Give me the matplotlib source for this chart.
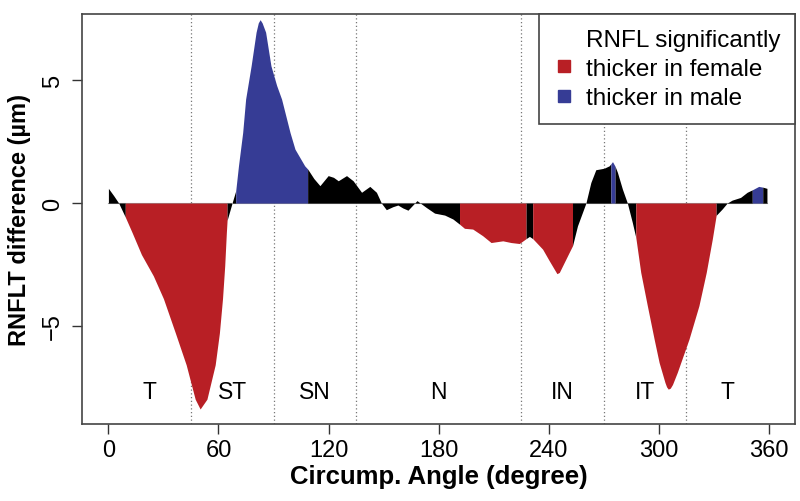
import matplotlib
matplotlib.use('Agg')
import matplotlib.pyplot as plt
from matplotlib.lines import Line2D
import numpy as np

plt.rcParams['font.family'] = ['Liberation Sans', 'DejaVu Sans']

# RNFLT difference (female - male)
angle = [0, 2.9, 5.6, 9.2, 12.9, 18, 24.5, 30, 36.5, 42.4, 47.3, 50, 53.7, 58.2,
         60.5, 62.2, 63.4, 64.3, 64.7, 67.4, 69.4, 70.9, 73.2, 74.8, 77.8, 80.5,
         81.7, 82.7, 83.8, 85.7, 88.6, 91.7, 94.4, 99.0, 101.7, 107.0, 108.6, 112,
         115.3, 119.8, 122.7, 125.3, 129.8, 133.4, 138, 142.5, 146.1, 148.8, 151.5,
         155, 157.8, 160.5, 163.3, 168.2, 173.3, 177.8, 183.3, 187.8, 191.4, 194.1,
         198.6, 204, 208.6, 215, 219.5, 224, 227.7, 229.5, 231.3, 236.7, 240.3,
         244.5, 245.8, 248.5, 251.2, 253, 255.7, 260.3, 263, 265.7, 270.2, 273,
         273.9, 274.8, 276.2, 277.5, 280.2, 282.9, 285.6, 287.5, 290.2, 293.8,
         297.5, 300.2, 303.4, 304.3, 305.2, 306.3, 307.5, 310.1, 316.5, 321.9,
         325.9, 329.2, 331.3, 334.6, 337.3, 340, 344.6, 348.2, 351, 354.5, 356.7, 359]
diff = [0.60, 0.30, 0.0, -0.57, -1.2, -2.1, -2.97, -3.9, -5.3, -6.6, -8.0, -8.4,
        -8.0, -6.6, -5.3, -3.9, -2.56, -1.2, -0.7, 0.0, 0.5, 1.52, 2.88, 4.24,
        5.6, 6.97, 7.35, 7.48, 7.35, 6.97, 5.6, 4.8, 4.24, 2.88, 2.2, 1.52, 1.39,
        1.0, 0.71, 1.12, 1.05, 0.91, 1.12, 0.91, 0.44, 0.68, 0.44, 0.0, -0.27,
        -0.15, -0.08, -0.2, -0.29, 0.1, -0.18, -0.41, -0.49, -0.65, -0.86, -1.03,
        -1.06, -1.33, -1.61, -1.54, -1.61, -1.65, -1.45, -1.36, -1.45, -1.88,
        -2.35, -2.88, -2.83, -2.42, -2.01, -1.74, -0.93, 0.0, 0.84, 1.36, 1.42,
        1.52, 1.6, 1.69, 1.5, 1.25, 0.57, 0.0, -0.79, -1.4, -2.83, -4.19, -5.55,
        -6.5, -7.32, -7.5, -7.59, -7.55, -7.4, -6.91, -5.55, -4.19, -2.83, -1.47,
        -0.5, -0.24, 0.0, 0.12, 0.23, 0.44, 0.54, 0.68, 0.65, 0.6]

# significance segments: 0 = n.s., 1 = thicker in female, 2 = thicker in male
seg_start = [0, 9.2, 64.7, 69.4, 108.6, 191.4, 227.7, 231.3, 253, 273.9, 276.2, 287.5, 331.3, 351, 356.7]
seg_end = [9.2, 64.7, 69.4, 108.6, 191.4, 227.7, 231.3, 253, 273.9, 276.2, 287.5, 331.3, 351, 356.7, 359]
seg_group = [0, 1, 0, 2, 0, 1, 0, 1, 0, 2, 0, 1, 0, 2, 0]

sectors = ['T', 'ST', 'SN', 'N', 'IN', 'IT', 'T']
sector_mid = [22.5, 67.5, 112.5, 180, 247.5, 292.5, 337.5]
sector_edges = [45, 90, 135, 225, 270, 315]

colors = {0: 'black', 1: '#B81F25', 2: '#363C95'}

angle = np.array(angle)
diff = np.array(diff)

fig = plt.figure(figsize=(8, 5.02), dpi=100)
ax = fig.add_axes([0.1025, 0.153, 0.8915, 0.817])

for s, e, g in zip(seg_start, seg_end, seg_group):
    m = (angle >= s) & (angle <= e)
    ax.fill_between(angle[m], diff[m], 0, color=colors[g], lw=0)

ax.plot([0, 359], [0, 0], color='#999999', lw=0.8, zorder=0)

for x in sector_edges:
    ax.axvline(x, color='#777777', ls=(0, (1, 2)), lw=0.9, zorder=0)
for x, s in zip(sector_mid, sectors):
    ax.text(x, -7.67, s, ha='center', va='center', fontsize=16.5)

ax.set_xlim(-14.4, 374.4)
ax.set_ylim(-9.02, 7.71)
ax.set_xticks(range(0, 361, 60))
ax.set_yticks([-5, 0, 5])
ax.set_yticklabels(['\u22125', '0', '5'], rotation=90, va='center')
ax.tick_params(axis='both', labelsize=17, length=7, width=1, color='#333333', pad=4)
ax.tick_params(axis='y', pad=6)
for lab in ax.get_xticklabels() + ax.get_yticklabels():
    lab.set_fontfamily(['Liberation Sans Narrow', 'Liberation Sans'])
for sp in ax.spines.values():
    sp.set_color('#444444')
    sp.set_linewidth(1.2)

ax.set_xlabel('Circump. Angle (degree)', fontsize=18.5, fontweight='bold', labelpad=2,
              fontfamily=['Liberation Sans Narrow', 'Liberation Sans'])
ax.set_ylabel('RNFLT difference (\u00b5m)', fontsize=17, fontweight='bold', labelpad=8)

handles = [Line2D([], [], ls='none'),
           Line2D([], [], ls='none', marker='s', ms=8, color=colors[1]),
           Line2D([], [], ls='none', marker='s', ms=8, color=colors[2])]
labels = ['RNFL significantly', 'thicker in female', 'thicker in male']
leg = ax.legend(handles, labels, loc='upper right', borderaxespad=0, fontsize=17.5,
                frameon=True, fancybox=False, edgecolor='#444444', framealpha=1,
                handlelength=0.9, handletextpad=0.45, labelspacing=0.3,
                borderpad=0.6)
leg.get_frame().set_linewidth(1.2)

fig.savefig('out.png', dpi=100)
